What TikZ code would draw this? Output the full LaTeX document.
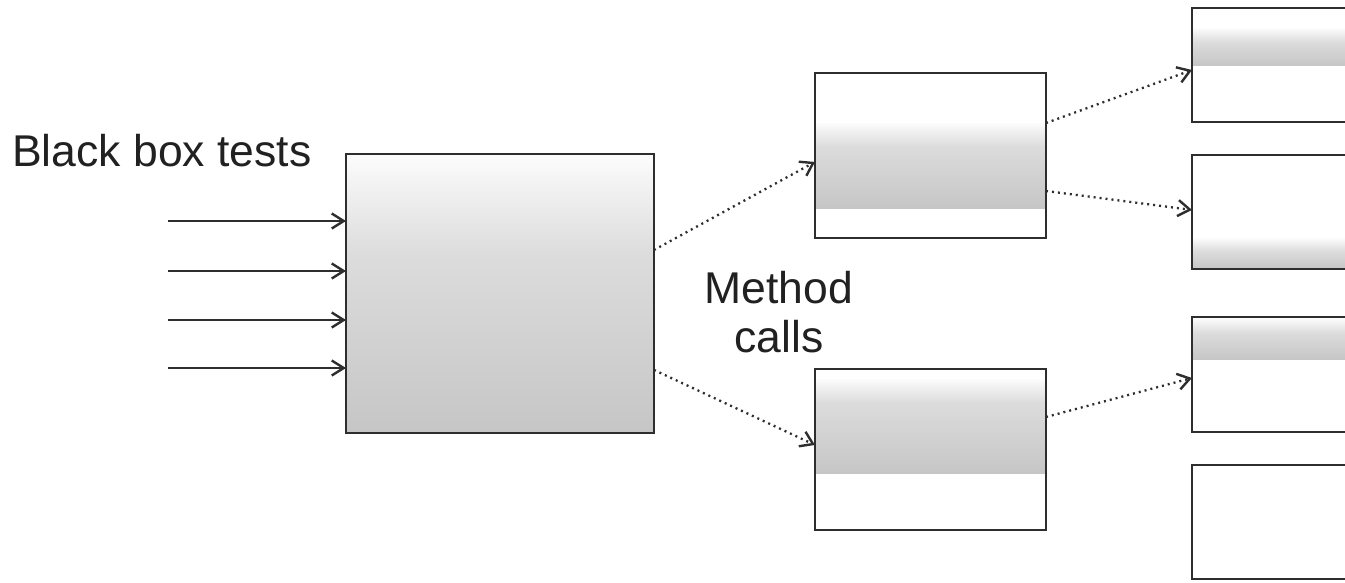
\documentclass[tikz,border=0pt]{standalone}
\usepackage{fontspec}
\setmainfont{Liberation Sans}
\usetikzlibrary{arrows.meta,calc}
\definecolor{edge}{HTML}{2E2E2E}
\definecolor{gA}{HTML}{FCFCFC}
\definecolor{gB}{HTML}{DCDCDC}
\definecolor{gC}{HTML}{C6C6C6}
\tikzset{
  boxnode/.style={draw=edge, line width=2.5pt, rectangle, inner sep=0pt, outer sep=0pt, anchor=north west},
  solidarrow/.style={draw=edge, line width=2.4pt, -{Straight Barb[length=12pt,width=15pt,line width=2.4pt]}},
  dotarrow/.style={draw=edge, line width=2.3pt, dash pattern=on 2pt off 4pt, -{Straight Barb[length=12pt,width=16pt,line width=2.4pt]}},
  label/.style={font=\fontsize{44.5}{49}\selectfont, text=black!87, inner sep=0pt},
  fadeband/.style={top color=gA, bottom color=gB, draw=none},
  grayband/.style={top color=gB, bottom color=gC, draw=none}
}
\begin{document}
\begin{tikzpicture}[x=1pt,y=-1pt]
\useasboundingbox (0,0) rectangle (1345,582);
\fill[white] (0,0) rectangle (1345,582);
\clip (0,0) rectangle (1345,582);
% shadings
\shade[top color=gA, bottom color=gB] (346,154) rectangle (654,255);
\shade[grayband] (346,255) rectangle (654,433);
\shade[fadeband] (815,123) rectangle (1046,146);
\shade[grayband] (815,146) rectangle (1046,208);
\shade[fadeband] (815,379) rectangle (1046,402);
\shade[grayband] (815,402) rectangle (1046,473);
\shade[fadeband] (1192,28) rectangle (1360,42);
\shade[grayband] (1192,42) rectangle (1360,65);
\shade[fadeband] (1192,238) rectangle (1360,251);
\shade[grayband] (1192,251) rectangle (1360,269);
\shade[fadeband] (1192,318) rectangle (1360,333);
\shade[grayband] (1192,333) rectangle (1360,359);
% boxes
\node[boxnode, minimum width=308pt, minimum height=279pt] (main) at (346,154) {};
\node[boxnode, minimum width=231pt, minimum height=165pt] (m1) at (815,73) {};
\node[boxnode, minimum width=231pt, minimum height=161pt] (m2) at (815,369) {};
\node[boxnode, minimum width=170pt, minimum height=114pt] (r1) at (1192,8) {};
\node[boxnode, minimum width=170pt, minimum height=114pt] (r2) at (1192,155) {};
\node[boxnode, minimum width=170pt, minimum height=115pt] (r3) at (1192,317) {};
\node[boxnode, minimum width=170pt, minimum height=114pt] (r4) at (1192,465) {};
% labels
\node[label, anchor=base west] (bbt) at (12,166) {Black box tests};
\node[label, align=center, anchor=north] (mc) at (779,271) {Method\\calls};
% input arrows
\coordinate (i1) at (168,221);
\coordinate (i2) at (168,271);
\coordinate (i3) at (168,320);
\coordinate (i4) at (168,368);
\foreach \i in {i1,i2,i3,i4}
  \draw[solidarrow] (\i) -- (\i -| main.west);
% dotted method calls
\draw[dotarrow] ($(main.north east)!0.344!(main.south east)$) -- ($(m1.north west)!0.539!(m1.south west)$);
\draw[dotarrow] ($(main.north east)!0.774!(main.south east)$) -- ($(m2.north west)!0.472!(m2.south west)$);
\draw[dotarrow] ($(m1.north east)!0.303!(m1.south east)$) -- ($(r1.north west)!0.544!(r1.south west)$);
\draw[dotarrow] ($(m1.north east)!0.715!(m1.south east)$) -- ($(r2.north west)!0.482!(r2.south west)$);
\draw[dotarrow] ($(m2.north east)!0.298!(m2.south east)$) -- ($(r3.north west)!0.530!(r3.south west)$);
\end{tikzpicture}
\end{document}
